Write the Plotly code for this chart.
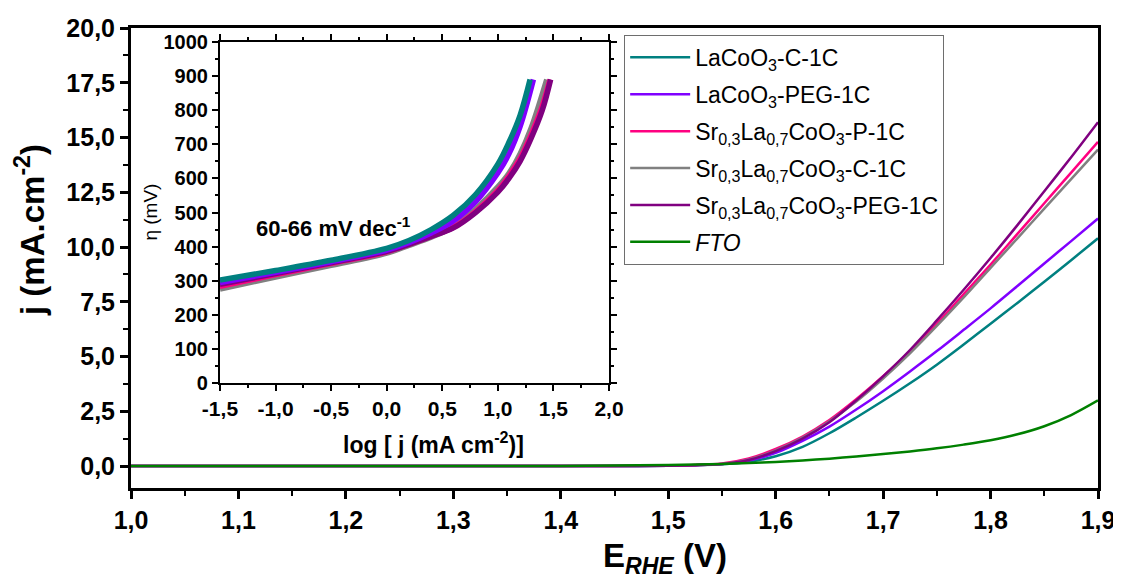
import plotly.graph_objects as go

# ---------------- data ----------------
names = [
    "LaCoO<sub>3</sub>-C-1C",
    "LaCoO<sub>3</sub>-PEG-1C",
    "Sr<sub>0,3</sub>La<sub>0,7</sub>CoO<sub>3</sub>-P-1C",
    "Sr<sub>0,3</sub>La<sub>0,7</sub>CoO<sub>3</sub>-C-1C",
    "Sr<sub>0,3</sub>La<sub>0,7</sub>CoO<sub>3</sub>-PEG-1C",
    "<i>FTO</i>",
]
colors = ["#008080", "#8000FF", "#FF0080", "#808080", "#800080", "#008000"]

E = [1.0, 1.1, 1.2, 1.3, 1.4, 1.45, 1.5, 1.525, 1.55, 1.575, 1.6, 1.625, 1.65, 1.675,
     1.7, 1.725, 1.75, 1.775, 1.8, 1.825, 1.85, 1.875, 1.9]
j_lacoo3_c = [0, 0, 0, 0, 0, 0.005, 0.02, 0.04, 0.08, 0.2, 0.45, 0.88, 1.5, 2.22,
              2.98, 3.78, 4.63, 5.55, 6.5, 7.45, 8.42, 9.4, 10.4]
j_lacoo3_peg = [0, 0, 0, 0, 0, 0.005, 0.02, 0.04, 0.09, 0.25, 0.6, 1.15, 1.8, 2.58,
                3.42, 4.32, 5.25, 6.22, 7.2, 8.22, 9.25, 10.27, 11.3]
j_sr_p = [0, 0, 0, 0, 0, 0.005, 0.025, 0.05, 0.12, 0.35, 0.78, 1.35, 2.1, 3.05,
          4.1, 5.25, 6.5, 7.85, 9.2, 10.6, 12.0, 13.4, 14.8]
j_sr_c = [0, 0, 0, 0, 0, 0.005, 0.02, 0.045, 0.1, 0.3, 0.72, 1.3, 2.05, 2.95,
          4.0, 5.15, 6.4, 7.7, 9.05, 10.4, 11.75, 13.1, 14.45]
j_sr_peg = [0, 0, 0, 0, 0, 0.005, 0.02, 0.04, 0.09, 0.28, 0.68, 1.25, 2.0, 3.0,
            4.1, 5.3, 6.65, 8.05, 9.5, 11.0, 12.55, 14.1, 15.7]
j_fto = [0, 0, 0, 0, 0.01, 0.025, 0.05, 0.07, 0.1, 0.14, 0.19, 0.26, 0.34, 0.44,
         0.55, 0.67, 0.81, 0.98, 1.18, 1.45, 1.82, 2.33, 3.0]

# inset (Tafel) data: log j vs eta
lj_lacoo3_c = [-1.5, -1.0, -0.5, 0.0, 0.2, 0.4, 0.6, 0.8, 1.0, 1.1, 1.2, 1.29]
eta_lacoo3_c = [302, 330, 360, 395, 418, 450, 492, 553, 642, 706, 785, 890]
lj_lacoo3_peg = [-1.5, -1.0, -0.5, 0.0, 0.2, 0.4, 0.6, 0.8, 1.0, 1.1, 1.2, 1.32]
eta_lacoo3_peg = [295, 325, 356, 390, 412, 440, 475, 532, 616, 672, 752, 890]
lj_sr_p = [-1.5, -1.0, -0.5, 0.0, 0.2, 0.4, 0.6, 0.8, 1.0, 1.1, 1.2, 1.3, 1.4, 1.47]
eta_sr_p = [284, 318, 351, 385, 407, 431, 457, 503, 565, 607, 658, 728, 812, 890]
lj_sr_c = [-1.5, -1.0, -0.5, 0.0, 0.2, 0.4, 0.6, 0.8, 1.0, 1.1, 1.2, 1.3, 1.44]
eta_sr_c = [276, 311, 345, 381, 404, 428, 458, 510, 575, 615, 672, 748, 890]
lj_sr_peg = [-1.5, -1.0, -0.5, 0.0, 0.2, 0.4, 0.6, 0.8, 1.0, 1.1, 1.2, 1.3, 1.4, 1.475]
eta_sr_peg = [290, 321, 353, 386, 407, 430, 455, 500, 560, 600, 650, 718, 800, 890]

main_y_ticks = [0, 2.5, 5, 7.5, 10, 12.5, 15, 17.5, 20]
main_y_text = ["0,0", "2,5", "5,0", "7,5", "10,0", "12,5", "15,0", "17,5", "20,0"]
main_x_ticks = [1.0, 1.1, 1.2, 1.3, 1.4, 1.5, 1.6, 1.7, 1.8, 1.9]
main_x_text = ["1,0", "1,1", "1,2", "1,3", "1,4", "1,5", "1,6", "1,7", "1,8", "1,9"]
ins_x_ticks = [-1.5, -1.0, -0.5, 0.0, 0.5, 1.0, 1.5, 2.0]
ins_x_text = ["-1,5", "-1,0", "-0,5", "0,0", "0,5", "1,0", "1,5", "2,0"]
ins_y_ticks = [0, 100, 200, 300, 400, 500, 600, 700, 800, 900, 1000]

FONT = "Liberation Sans, Arial, sans-serif"

fig = go.Figure()

main_series = [j_lacoo3_c, j_lacoo3_peg, j_sr_p, j_sr_c, j_sr_peg, j_fto]
for i, (nm, col, ys) in enumerate(zip(names, colors, main_series)):
    fig.add_trace(go.Scatter(
        x=E, y=ys, name=nm, mode="lines",
        line=dict(color=col, width=2.5, shape="spline", smoothing=0.9),
        legendgroup=f"g{i}", xaxis="x", yaxis="y",
    ))

inset_series = [
    (lj_lacoo3_c, eta_lacoo3_c),
    (lj_lacoo3_peg, eta_lacoo3_peg),
    (lj_sr_p, eta_sr_p),
    (lj_sr_c, eta_sr_c),
    (lj_sr_peg, eta_sr_peg),
]
inset_order = [3, 2, 4, 1, 0]
for k in inset_order:
    xs, ys = inset_series[k]
    fig.add_trace(go.Scatter(
        x=xs, y=ys, mode="lines", showlegend=False,
        line=dict(color=colors[k], width=5.5, shape="spline", smoothing=1.0),
        xaxis="x2", yaxis="y2",
    ))

fig.update_layout(
    width=1121, height=574,
    margin=dict(l=123, r=31, t=20, b=94),
    paper_bgcolor="white", plot_bgcolor="white",
    font=dict(family=FONT, color="black"),
    showlegend=True,
    legend=dict(
        x=0.51, y=0.985, xanchor="left", yanchor="top",
        bordercolor="#6e6e6e", borderwidth=1, bgcolor="white",
        font=dict(family=FONT, size=23, color="black"),
        tracegroupgap=4, itemwidth=60,
    ),
    xaxis=dict(
        domain=[0, 1], range=[1.0, 1.9], automargin=False,
        tickvals=main_x_ticks, ticktext=main_x_text,
        tickfont=dict(size=25, weight="bold"),
        ticks="outside", ticklen=8, tickwidth=2.5, tickcolor="black",
        minor=dict(dtick=0.05, ticks="outside", ticklen=5, tickwidth=2, tickcolor="black", tick0=1.0),
        showline=True, linewidth=3, linecolor="black", mirror=True,
        showgrid=False, zeroline=False,
    ),
    yaxis=dict(
        domain=[0, 1], range=[-1, 20], automargin=False,
        tickvals=main_y_ticks, ticktext=main_y_text,
        tickfont=dict(size=25, weight="bold"),
        ticks="outside", ticklen=8, tickwidth=2.5, tickcolor="black",
        minor=dict(dtick=1.25, tick0=0, ticks="outside", ticklen=5, tickwidth=2, tickcolor="black"),
        showline=True, linewidth=3, linecolor="black", mirror=True,
        showgrid=False, zeroline=False,
    ),
    xaxis2=dict(
        domain=[0.092, 0.4943], anchor="y2", range=[-1.5, 2.0], automargin=False,
        tickvals=ins_x_ticks, ticktext=ins_x_text,
        tickfont=dict(size=21, weight="bold"),
        ticks="outside", ticklen=6, tickwidth=2, tickcolor="black",
        minor=dict(dtick=0.25, tick0=-1.5, ticks="outside", ticklen=3, tickwidth=1.5, tickcolor="black"),
        showline=True, linewidth=2, linecolor="black", mirror="allticks",
        showgrid=False, zeroline=False,
    ),
    yaxis2=dict(
        domain=[0.228, 0.9696], anchor="x2", range=[0, 1000], automargin=False,
        tickvals=ins_y_ticks,
        tickfont=dict(size=20, weight="bold"),
        ticks="outside", ticklen=6, tickwidth=2, tickcolor="black",
        minor=dict(dtick=50, tick0=0, ticks="outside", ticklen=3, tickwidth=1.5, tickcolor="black"),
        showline=True, linewidth=2, linecolor="black", mirror="allticks",
        showgrid=False, zeroline=False,
    ),
    annotations=[
        # main axis titles
        dict(text="<b>E<sub><i>RHE</i></sub> (V)</b>", x=0.552, y=-0.152, xref="paper", yref="paper",
             xanchor="center", yanchor="middle", showarrow=False,
             font=dict(family=FONT, size=33, color="black")),
        dict(text="<b>j (mA.cm<sup>-2</sup>)</b>", x=-0.1044, y=0.561, xref="paper", yref="paper",
             xanchor="center", yanchor="middle", showarrow=False, textangle=-90,
             font=dict(family=FONT, size=33, color="black")),
        # inset axis titles
        dict(text="<b>log [ j (mA cm<sup>-2</sup>)]</b>", x=0.3133, y=0.0978, xref="paper", yref="paper",
             xanchor="center", yanchor="middle", showarrow=False,
             font=dict(family=FONT, size=23, color="black")),
        dict(text="η (mV)", x=0.0197, y=0.5989, xref="paper", yref="paper",
             xanchor="center", yanchor="middle", showarrow=False, textangle=-90,
             font=dict(family=FONT, size=19, color="black")),
        dict(text="<b>60-66 mV dec<sup>-1</sup></b>", x=-1.194, y=458, xref="x2", yref="y2",
             xanchor="left", yanchor="middle", showarrow=False,
             font=dict(family=FONT, size=22, color="black")),
    ],
)

fig.write_html("out.html")
